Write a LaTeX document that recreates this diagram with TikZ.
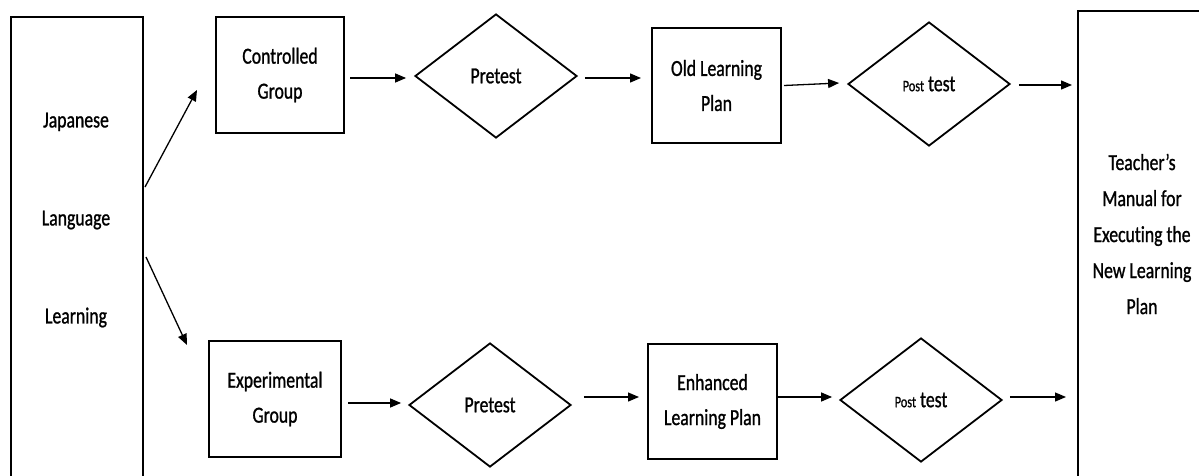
\documentclass[tikz,border=0pt]{standalone}
\usepackage{fontspec}
\setmainfont[FakeStretch=0.77,FakeBold=1,Ligatures=NoCommon]{Carlito}
\usetikzlibrary{arrows.meta,shapes.geometric,calc}
\tikzset{
  box/.style={draw,line width=2pt,inner sep=0pt,align=center,font=\fontsize{23}{35}\selectfont},
  dia/.style={draw,diamond,line width=1.8pt,inner sep=0pt,minimum width=162pt,minimum height=124pt,font=\fontsize{23}{26}\selectfont},
  arr/.style={-{Triangle[length=11pt,width=9pt]},line width=1.3pt}
}
\begin{document}
\begin{tikzpicture}[x=1pt,y=-1pt]
\useasboundingbox (0,0) rectangle (1199,475);
% side boxes
\node[box,minimum width=132pt,minimum height=466pt,anchor=north west] (L) at (10,16) {};
\node[font=\fontsize{23}{98}\selectfont,align=center] (Ltext) at (76,220) {Japanese\\Language\\Learning};
\node[box,minimum width=130pt,minimum height=474pt,anchor=north west] (R) at (1077,10) {};
\node[font=\fontsize{23}{36}\selectfont,align=center] (Rtext) at (1142,234) {Teacher’s\\Manual for\\Executing the\\New Learning\\Plan};
% top row
\node[box,minimum width=128pt,minimum height=116pt] (C) at (280,75) {Controlled\\Group};
\node[dia] (P1) at (496,76) {Pretest};
\node[box,minimum width=129pt,minimum height=115pt] (O) at (716.5,85.5) {Old Learning\\Plan};
\node[dia] (T1) at (929,84) {{\fontsize{16}{18}\selectfont Post} test};
% bottom row
\node[box,minimum width=132pt,minimum height=116pt] (E) at (275,399) {Experimental\\Group};
\node[dia] (P2) at (490,405) {Pretest};
\node[box,minimum width=129pt,minimum height=115pt] (N) at (712.5,401.5) {Enhanced\\Learning Plan};
\node[dia] (T2) at (921,400) {{\fontsize{16}{18}\selectfont Post} test};
% diagonal arrows
\draw[arr] ($(L.east)+(1,-63)$) -- ($(C.west)+(-18,15)$);
\draw[arr] ($(L.east)+(2,7)$) -- ($(E.west)+(-21,-54)$);
% top arrows
\draw[arr] ($(C.east)+(5,3)$) -- ($(P1.west)+(-8,2)$);
\draw[arr] ($(P1.east)+(7,2)$) -- ($(O.west)+(-10,-7.5)$);
\draw[arr] ($(O.east)+(2,0)$) -- ($(T1.west)+(-8,-1)$);
\draw[arr] ($(T1.east)+(8,1)$) -- ($(R.west |- T1.east)+(-5,1)$);
% bottom arrows
\draw[arr] ($(E.east)+(6,4)$) -- ($(P2.west)+(-7,-2)$);
\draw[arr] ($(P2.east)+(12,-8)$) -- ($(N.west)+(-8,-4.5)$);
\draw[arr] ($(N.east)+(0,-4.5)$) -- ($(T2.west)+(-7,-3)$);
\draw[arr] ($(T2.east)+(7,-3)$) -- ($(R.west |- T2.east)+(-11,-3)$);
\end{tikzpicture}
\end{document}
